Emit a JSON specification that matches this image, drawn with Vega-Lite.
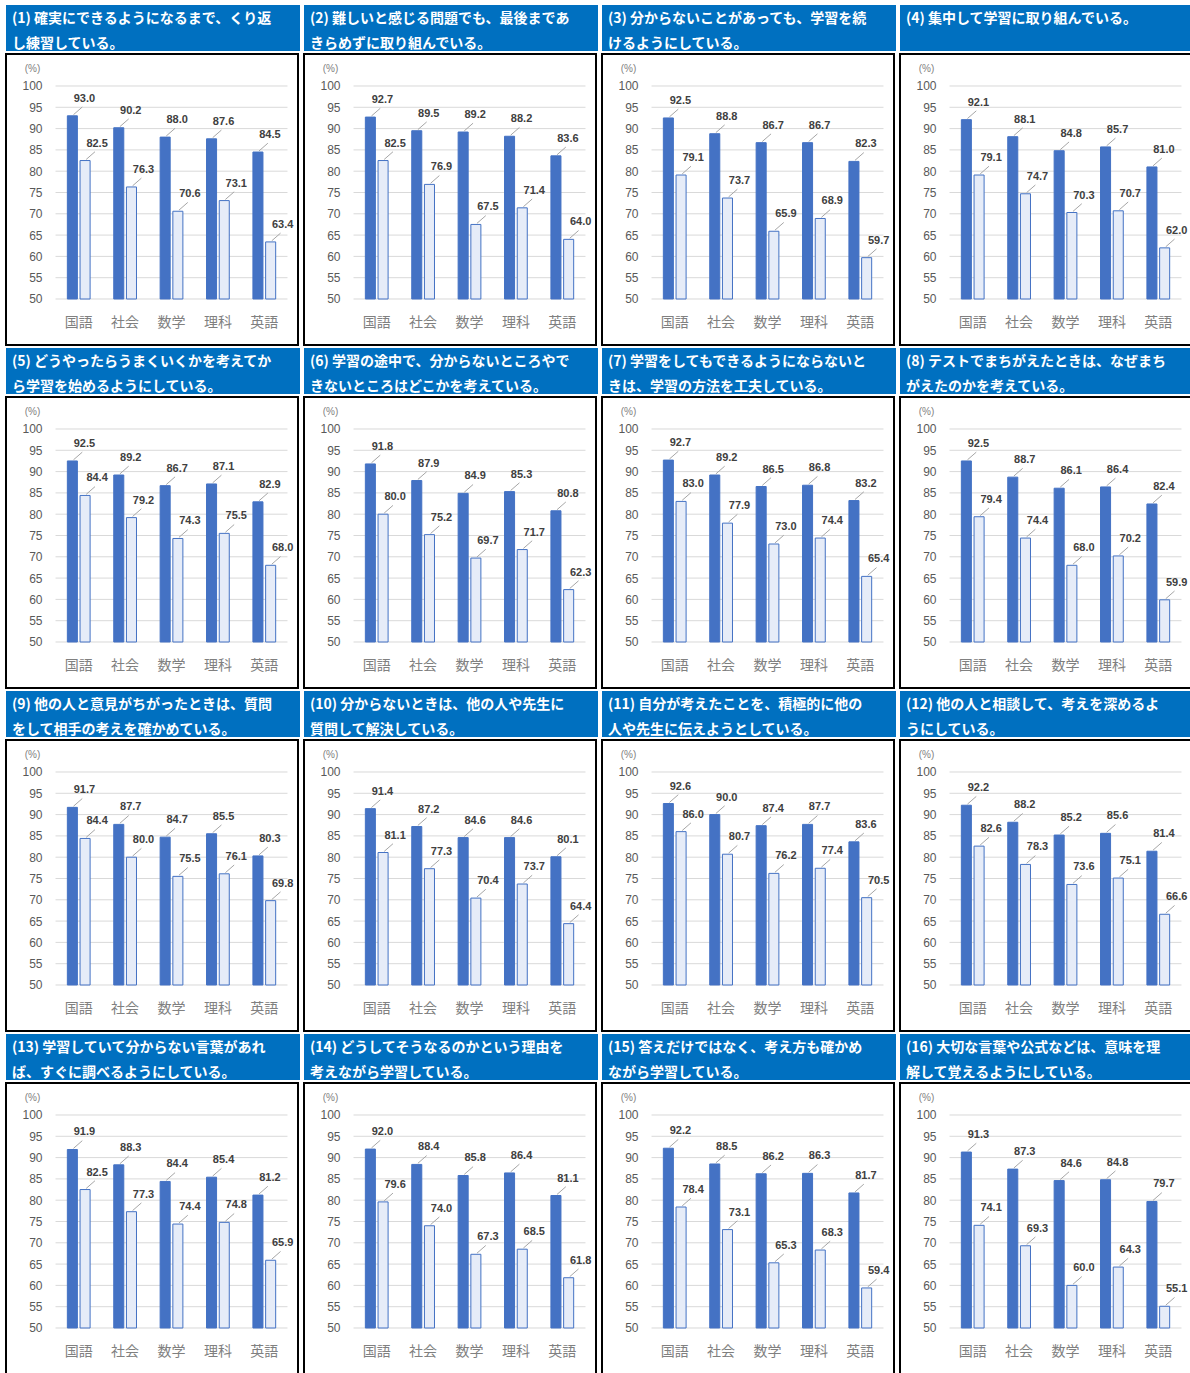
{
"$schema":"https://vega.github.io/schema/vega-lite/v6.json",
"padding":{"left":5,"top":5,"right":0,"bottom":0},
"background":"#ffffff",
"datasets":{
"grid":[{"v":50},{"v":55},{"v":60},{"v":65},{"v":70},{"v":75},{"v":80},{"v":85},{"v":90},{"v":95},{"v":100}],
"d":[
{"q":1,"s":"国語","g":"A","v":93.0},{"q":1,"s":"社会","g":"A","v":90.2},{"q":1,"s":"数学","g":"A","v":88.0},{"q":1,"s":"理科","g":"A","v":87.6},{"q":1,"s":"英語","g":"A","v":84.5},
{"q":1,"s":"国語","g":"B","v":82.5},{"q":1,"s":"社会","g":"B","v":76.3},{"q":1,"s":"数学","g":"B","v":70.6},{"q":1,"s":"理科","g":"B","v":73.1},{"q":1,"s":"英語","g":"B","v":63.4},
{"q":2,"s":"国語","g":"A","v":92.7},{"q":2,"s":"社会","g":"A","v":89.5},{"q":2,"s":"数学","g":"A","v":89.2},{"q":2,"s":"理科","g":"A","v":88.2},{"q":2,"s":"英語","g":"A","v":83.6},
{"q":2,"s":"国語","g":"B","v":82.5},{"q":2,"s":"社会","g":"B","v":76.9},{"q":2,"s":"数学","g":"B","v":67.5},{"q":2,"s":"理科","g":"B","v":71.4},{"q":2,"s":"英語","g":"B","v":64.0},
{"q":3,"s":"国語","g":"A","v":92.5},{"q":3,"s":"社会","g":"A","v":88.8},{"q":3,"s":"数学","g":"A","v":86.7},{"q":3,"s":"理科","g":"A","v":86.7},{"q":3,"s":"英語","g":"A","v":82.3},
{"q":3,"s":"国語","g":"B","v":79.1},{"q":3,"s":"社会","g":"B","v":73.7},{"q":3,"s":"数学","g":"B","v":65.9},{"q":3,"s":"理科","g":"B","v":68.9},{"q":3,"s":"英語","g":"B","v":59.7},
{"q":4,"s":"国語","g":"A","v":92.1},{"q":4,"s":"社会","g":"A","v":88.1},{"q":4,"s":"数学","g":"A","v":84.8},{"q":4,"s":"理科","g":"A","v":85.7},{"q":4,"s":"英語","g":"A","v":81.0},
{"q":4,"s":"国語","g":"B","v":79.1},{"q":4,"s":"社会","g":"B","v":74.7},{"q":4,"s":"数学","g":"B","v":70.3},{"q":4,"s":"理科","g":"B","v":70.7},{"q":4,"s":"英語","g":"B","v":62.0},
{"q":5,"s":"国語","g":"A","v":92.5},{"q":5,"s":"社会","g":"A","v":89.2},{"q":5,"s":"数学","g":"A","v":86.7},{"q":5,"s":"理科","g":"A","v":87.1},{"q":5,"s":"英語","g":"A","v":82.9},
{"q":5,"s":"国語","g":"B","v":84.4},{"q":5,"s":"社会","g":"B","v":79.2},{"q":5,"s":"数学","g":"B","v":74.3},{"q":5,"s":"理科","g":"B","v":75.5},{"q":5,"s":"英語","g":"B","v":68.0},
{"q":6,"s":"国語","g":"A","v":91.8},{"q":6,"s":"社会","g":"A","v":87.9},{"q":6,"s":"数学","g":"A","v":84.9},{"q":6,"s":"理科","g":"A","v":85.3},{"q":6,"s":"英語","g":"A","v":80.8},
{"q":6,"s":"国語","g":"B","v":80.0},{"q":6,"s":"社会","g":"B","v":75.2},{"q":6,"s":"数学","g":"B","v":69.7},{"q":6,"s":"理科","g":"B","v":71.7},{"q":6,"s":"英語","g":"B","v":62.3},
{"q":7,"s":"国語","g":"A","v":92.7},{"q":7,"s":"社会","g":"A","v":89.2},{"q":7,"s":"数学","g":"A","v":86.5},{"q":7,"s":"理科","g":"A","v":86.8},{"q":7,"s":"英語","g":"A","v":83.2},
{"q":7,"s":"国語","g":"B","v":83.0},{"q":7,"s":"社会","g":"B","v":77.9},{"q":7,"s":"数学","g":"B","v":73.0},{"q":7,"s":"理科","g":"B","v":74.4},{"q":7,"s":"英語","g":"B","v":65.4},
{"q":8,"s":"国語","g":"A","v":92.5},{"q":8,"s":"社会","g":"A","v":88.7},{"q":8,"s":"数学","g":"A","v":86.1},{"q":8,"s":"理科","g":"A","v":86.4},{"q":8,"s":"英語","g":"A","v":82.4},
{"q":8,"s":"国語","g":"B","v":79.4},{"q":8,"s":"社会","g":"B","v":74.4},{"q":8,"s":"数学","g":"B","v":68.0},{"q":8,"s":"理科","g":"B","v":70.2},{"q":8,"s":"英語","g":"B","v":59.9},
{"q":9,"s":"国語","g":"A","v":91.7},{"q":9,"s":"社会","g":"A","v":87.7},{"q":9,"s":"数学","g":"A","v":84.7},{"q":9,"s":"理科","g":"A","v":85.5},{"q":9,"s":"英語","g":"A","v":80.3},
{"q":9,"s":"国語","g":"B","v":84.4},{"q":9,"s":"社会","g":"B","v":80.0},{"q":9,"s":"数学","g":"B","v":75.5},{"q":9,"s":"理科","g":"B","v":76.1},{"q":9,"s":"英語","g":"B","v":69.8},
{"q":10,"s":"国語","g":"A","v":91.4},{"q":10,"s":"社会","g":"A","v":87.2},{"q":10,"s":"数学","g":"A","v":84.6},{"q":10,"s":"理科","g":"A","v":84.6},{"q":10,"s":"英語","g":"A","v":80.1},
{"q":10,"s":"国語","g":"B","v":81.1},{"q":10,"s":"社会","g":"B","v":77.3},{"q":10,"s":"数学","g":"B","v":70.4},{"q":10,"s":"理科","g":"B","v":73.7},{"q":10,"s":"英語","g":"B","v":64.4},
{"q":11,"s":"国語","g":"A","v":92.6},{"q":11,"s":"社会","g":"A","v":90.0},{"q":11,"s":"数学","g":"A","v":87.4},{"q":11,"s":"理科","g":"A","v":87.7},{"q":11,"s":"英語","g":"A","v":83.6},
{"q":11,"s":"国語","g":"B","v":86.0},{"q":11,"s":"社会","g":"B","v":80.7},{"q":11,"s":"数学","g":"B","v":76.2},{"q":11,"s":"理科","g":"B","v":77.4},{"q":11,"s":"英語","g":"B","v":70.5},
{"q":12,"s":"国語","g":"A","v":92.2},{"q":12,"s":"社会","g":"A","v":88.2},{"q":12,"s":"数学","g":"A","v":85.2},{"q":12,"s":"理科","g":"A","v":85.6},{"q":12,"s":"英語","g":"A","v":81.4},
{"q":12,"s":"国語","g":"B","v":82.6},{"q":12,"s":"社会","g":"B","v":78.3},{"q":12,"s":"数学","g":"B","v":73.6},{"q":12,"s":"理科","g":"B","v":75.1},{"q":12,"s":"英語","g":"B","v":66.6},
{"q":13,"s":"国語","g":"A","v":91.9},{"q":13,"s":"社会","g":"A","v":88.3},{"q":13,"s":"数学","g":"A","v":84.4},{"q":13,"s":"理科","g":"A","v":85.4},{"q":13,"s":"英語","g":"A","v":81.2},
{"q":13,"s":"国語","g":"B","v":82.5},{"q":13,"s":"社会","g":"B","v":77.3},{"q":13,"s":"数学","g":"B","v":74.4},{"q":13,"s":"理科","g":"B","v":74.8},{"q":13,"s":"英語","g":"B","v":65.9},
{"q":14,"s":"国語","g":"A","v":92.0},{"q":14,"s":"社会","g":"A","v":88.4},{"q":14,"s":"数学","g":"A","v":85.8},{"q":14,"s":"理科","g":"A","v":86.4},{"q":14,"s":"英語","g":"A","v":81.1},
{"q":14,"s":"国語","g":"B","v":79.6},{"q":14,"s":"社会","g":"B","v":74.0},{"q":14,"s":"数学","g":"B","v":67.3},{"q":14,"s":"理科","g":"B","v":68.5},{"q":14,"s":"英語","g":"B","v":61.8},
{"q":15,"s":"国語","g":"A","v":92.2},{"q":15,"s":"社会","g":"A","v":88.5},{"q":15,"s":"数学","g":"A","v":86.2},{"q":15,"s":"理科","g":"A","v":86.3},{"q":15,"s":"英語","g":"A","v":81.7},
{"q":15,"s":"国語","g":"B","v":78.4},{"q":15,"s":"社会","g":"B","v":73.1},{"q":15,"s":"数学","g":"B","v":65.3},{"q":15,"s":"理科","g":"B","v":68.3},{"q":15,"s":"英語","g":"B","v":59.4},
{"q":16,"s":"国語","g":"A","v":91.3},{"q":16,"s":"社会","g":"A","v":87.3},{"q":16,"s":"数学","g":"A","v":84.6},{"q":16,"s":"理科","g":"A","v":84.8},{"q":16,"s":"英語","g":"A","v":79.7},
{"q":16,"s":"国語","g":"B","v":74.1},{"q":16,"s":"社会","g":"B","v":69.3},{"q":16,"s":"数学","g":"B","v":60.0},{"q":16,"s":"理科","g":"B","v":64.3},{"q":16,"s":"英語","g":"B","v":55.1}
]},
"columns":4,
"spacing":{"row":2,"column":3},
"concat":[
{"spacing":2,"vconcat":[
{"width":294,"height":46,"view":{"fill":"#0070c0","stroke":null},"data":{"values":[{}]},"mark":{"type":"rect","color":"#0070c0"},"encoding":{},"title":{"text":["(1) 確実にできるようになるまで、くり返","し練習している。"]}},
{"width":292,"height":291,"view":{"stroke":"#000000","strokeWidth":2},"layer":[
{"data":{"name":"grid"},"mark":{"type":"rule","color":"#d9d9d9"},"encoding":{"y":{"field":"v","type":"quantitative","title":"(%)","scale":{"domain":[39.2,107.51],"nice":false,"zero":false},"axis":{"offset":-36,"values":[50,55,60,65,70,75,80,85,90,95,100]}},"x":{"datum":"国語","type":"nominal","bandPosition":0,"title":null,"scale":{"domain":["国語","社会","数学","理科","英語"],"paddingInner":0,"paddingOuter":0.647,"align":0.825},"axis":{"offset":-23}},"x2":{"datum":"英語","bandPosition":1}}},
{"data":{"name":"d"},"transform":[{"filter":"datum.q==1"}],"encoding":{"x":{"field":"s","type":"nominal","title":null,"scale":{"domain":["国語","社会","数学","理科","英語"],"paddingInner":0,"paddingOuter":0.647,"align":0.825},"axis":{"offset":-23}},"xOffset":{"field":"g","type":"nominal","scale":{"domain":["A","B"],"paddingInner":0.21,"paddingOuter":0.93}},"y":{"field":"v","type":"quantitative","title":"(%)","scale":{"domain":[39.2,107.51],"nice":false,"zero":false},"axis":{"offset":-36,"values":[50,55,60,65,70,75,80,85,90,95,100]}}},"layer":[
{"mark":{"type":"bar","stroke":"#4472c4","strokeWidth":1},"encoding":{"y2":{"datum":50},"color":{"field":"g","type":"nominal","scale":{"domain":["A","B"],"range":["#4472c4","#e6ecf8"]},"legend":null}}},
{"mark":{"type":"point","shape":"M0.1,-0.1L0.9,-0.8","size":484,"filled":false,"color":"#a6a6a6","strokeWidth":1,"opacity":1}},
{"mark":{"type":"text","dx":12,"dy":-17,"font":"Liberation Sans","fontSize":11,"fontWeight":"bold","color":"#404040"},"encoding":{"text":{"field":"v","type":"quantitative","format":".1f"}}}
]}]}]},
{"spacing":2,"vconcat":[
{"width":294,"height":46,"view":{"fill":"#0070c0","stroke":null},"data":{"values":[{}]},"mark":{"type":"rect","color":"#0070c0"},"encoding":{},"title":{"text":["(2) 難しいと感じる問題でも、最後まであ","きらめずに取り組んでいる。"]}},
{"width":292,"height":291,"view":{"stroke":"#000000","strokeWidth":2},"layer":[
{"data":{"name":"grid"},"mark":{"type":"rule","color":"#d9d9d9"},"encoding":{"y":{"field":"v","type":"quantitative","title":"(%)","scale":{"domain":[39.2,107.51],"nice":false,"zero":false},"axis":{"offset":-36,"values":[50,55,60,65,70,75,80,85,90,95,100]}},"x":{"datum":"国語","type":"nominal","bandPosition":0,"title":null,"scale":{"domain":["国語","社会","数学","理科","英語"],"paddingInner":0,"paddingOuter":0.647,"align":0.825},"axis":{"offset":-23}},"x2":{"datum":"英語","bandPosition":1}}},
{"data":{"name":"d"},"transform":[{"filter":"datum.q==2"}],"encoding":{"x":{"field":"s","type":"nominal","title":null,"scale":{"domain":["国語","社会","数学","理科","英語"],"paddingInner":0,"paddingOuter":0.647,"align":0.825},"axis":{"offset":-23}},"xOffset":{"field":"g","type":"nominal","scale":{"domain":["A","B"],"paddingInner":0.21,"paddingOuter":0.93}},"y":{"field":"v","type":"quantitative","title":"(%)","scale":{"domain":[39.2,107.51],"nice":false,"zero":false},"axis":{"offset":-36,"values":[50,55,60,65,70,75,80,85,90,95,100]}}},"layer":[
{"mark":{"type":"bar","stroke":"#4472c4","strokeWidth":1},"encoding":{"y2":{"datum":50},"color":{"field":"g","type":"nominal","scale":{"domain":["A","B"],"range":["#4472c4","#e6ecf8"]},"legend":null}}},
{"mark":{"type":"point","shape":"M0.1,-0.1L0.9,-0.8","size":484,"filled":false,"color":"#a6a6a6","strokeWidth":1,"opacity":1}},
{"mark":{"type":"text","dx":12,"dy":-17,"font":"Liberation Sans","fontSize":11,"fontWeight":"bold","color":"#404040"},"encoding":{"text":{"field":"v","type":"quantitative","format":".1f"}}}
]}]}]},
{"spacing":2,"vconcat":[
{"width":294,"height":46,"view":{"fill":"#0070c0","stroke":null},"data":{"values":[{}]},"mark":{"type":"rect","color":"#0070c0"},"encoding":{},"title":{"text":["(3) 分からないことがあっても、学習を続","けるようにしている。"]}},
{"width":292,"height":291,"view":{"stroke":"#000000","strokeWidth":2},"layer":[
{"data":{"name":"grid"},"mark":{"type":"rule","color":"#d9d9d9"},"encoding":{"y":{"field":"v","type":"quantitative","title":"(%)","scale":{"domain":[39.2,107.51],"nice":false,"zero":false},"axis":{"offset":-36,"values":[50,55,60,65,70,75,80,85,90,95,100]}},"x":{"datum":"国語","type":"nominal","bandPosition":0,"title":null,"scale":{"domain":["国語","社会","数学","理科","英語"],"paddingInner":0,"paddingOuter":0.647,"align":0.825},"axis":{"offset":-23}},"x2":{"datum":"英語","bandPosition":1}}},
{"data":{"name":"d"},"transform":[{"filter":"datum.q==3"}],"encoding":{"x":{"field":"s","type":"nominal","title":null,"scale":{"domain":["国語","社会","数学","理科","英語"],"paddingInner":0,"paddingOuter":0.647,"align":0.825},"axis":{"offset":-23}},"xOffset":{"field":"g","type":"nominal","scale":{"domain":["A","B"],"paddingInner":0.21,"paddingOuter":0.93}},"y":{"field":"v","type":"quantitative","title":"(%)","scale":{"domain":[39.2,107.51],"nice":false,"zero":false},"axis":{"offset":-36,"values":[50,55,60,65,70,75,80,85,90,95,100]}}},"layer":[
{"mark":{"type":"bar","stroke":"#4472c4","strokeWidth":1},"encoding":{"y2":{"datum":50},"color":{"field":"g","type":"nominal","scale":{"domain":["A","B"],"range":["#4472c4","#e6ecf8"]},"legend":null}}},
{"mark":{"type":"point","shape":"M0.1,-0.1L0.9,-0.8","size":484,"filled":false,"color":"#a6a6a6","strokeWidth":1,"opacity":1}},
{"mark":{"type":"text","dx":12,"dy":-17,"font":"Liberation Sans","fontSize":11,"fontWeight":"bold","color":"#404040"},"encoding":{"text":{"field":"v","type":"quantitative","format":".1f"}}}
]}]}]},
{"spacing":2,"vconcat":[
{"width":294,"height":46,"view":{"fill":"#0070c0","stroke":null},"data":{"values":[{}]},"mark":{"type":"rect","color":"#0070c0"},"encoding":{},"title":{"text":["(4) 集中して学習に取り組んでいる。"],"offset":-21}},
{"width":292,"height":291,"view":{"stroke":"#000000","strokeWidth":2},"layer":[
{"data":{"name":"grid"},"mark":{"type":"rule","color":"#d9d9d9"},"encoding":{"y":{"field":"v","type":"quantitative","title":"(%)","scale":{"domain":[39.2,107.51],"nice":false,"zero":false},"axis":{"offset":-36,"values":[50,55,60,65,70,75,80,85,90,95,100]}},"x":{"datum":"国語","type":"nominal","bandPosition":0,"title":null,"scale":{"domain":["国語","社会","数学","理科","英語"],"paddingInner":0,"paddingOuter":0.647,"align":0.825},"axis":{"offset":-23}},"x2":{"datum":"英語","bandPosition":1}}},
{"data":{"name":"d"},"transform":[{"filter":"datum.q==4"}],"encoding":{"x":{"field":"s","type":"nominal","title":null,"scale":{"domain":["国語","社会","数学","理科","英語"],"paddingInner":0,"paddingOuter":0.647,"align":0.825},"axis":{"offset":-23}},"xOffset":{"field":"g","type":"nominal","scale":{"domain":["A","B"],"paddingInner":0.21,"paddingOuter":0.93}},"y":{"field":"v","type":"quantitative","title":"(%)","scale":{"domain":[39.2,107.51],"nice":false,"zero":false},"axis":{"offset":-36,"values":[50,55,60,65,70,75,80,85,90,95,100]}}},"layer":[
{"mark":{"type":"bar","stroke":"#4472c4","strokeWidth":1},"encoding":{"y2":{"datum":50},"color":{"field":"g","type":"nominal","scale":{"domain":["A","B"],"range":["#4472c4","#e6ecf8"]},"legend":null}}},
{"mark":{"type":"point","shape":"M0.1,-0.1L0.9,-0.8","size":484,"filled":false,"color":"#a6a6a6","strokeWidth":1,"opacity":1}},
{"mark":{"type":"text","dx":12,"dy":-17,"font":"Liberation Sans","fontSize":11,"fontWeight":"bold","color":"#404040"},"encoding":{"text":{"field":"v","type":"quantitative","format":".1f"}}}
]}]}]},
{"spacing":2,"vconcat":[
{"width":294,"height":46,"view":{"fill":"#0070c0","stroke":null},"data":{"values":[{}]},"mark":{"type":"rect","color":"#0070c0"},"encoding":{},"title":{"text":["(5) どうやったらうまくいくかを考えてか","ら学習を始めるようにしている。"]}},
{"width":292,"height":291,"view":{"stroke":"#000000","strokeWidth":2},"layer":[
{"data":{"name":"grid"},"mark":{"type":"rule","color":"#d9d9d9"},"encoding":{"y":{"field":"v","type":"quantitative","title":"(%)","scale":{"domain":[39.2,107.51],"nice":false,"zero":false},"axis":{"offset":-36,"values":[50,55,60,65,70,75,80,85,90,95,100]}},"x":{"datum":"国語","type":"nominal","bandPosition":0,"title":null,"scale":{"domain":["国語","社会","数学","理科","英語"],"paddingInner":0,"paddingOuter":0.647,"align":0.825},"axis":{"offset":-23}},"x2":{"datum":"英語","bandPosition":1}}},
{"data":{"name":"d"},"transform":[{"filter":"datum.q==5"}],"encoding":{"x":{"field":"s","type":"nominal","title":null,"scale":{"domain":["国語","社会","数学","理科","英語"],"paddingInner":0,"paddingOuter":0.647,"align":0.825},"axis":{"offset":-23}},"xOffset":{"field":"g","type":"nominal","scale":{"domain":["A","B"],"paddingInner":0.21,"paddingOuter":0.93}},"y":{"field":"v","type":"quantitative","title":"(%)","scale":{"domain":[39.2,107.51],"nice":false,"zero":false},"axis":{"offset":-36,"values":[50,55,60,65,70,75,80,85,90,95,100]}}},"layer":[
{"mark":{"type":"bar","stroke":"#4472c4","strokeWidth":1},"encoding":{"y2":{"datum":50},"color":{"field":"g","type":"nominal","scale":{"domain":["A","B"],"range":["#4472c4","#e6ecf8"]},"legend":null}}},
{"mark":{"type":"point","shape":"M0.1,-0.1L0.9,-0.8","size":484,"filled":false,"color":"#a6a6a6","strokeWidth":1,"opacity":1}},
{"mark":{"type":"text","dx":12,"dy":-17,"font":"Liberation Sans","fontSize":11,"fontWeight":"bold","color":"#404040"},"encoding":{"text":{"field":"v","type":"quantitative","format":".1f"}}}
]}]}]},
{"spacing":2,"vconcat":[
{"width":294,"height":46,"view":{"fill":"#0070c0","stroke":null},"data":{"values":[{}]},"mark":{"type":"rect","color":"#0070c0"},"encoding":{},"title":{"text":["(6) 学習の途中で、分からないところやで","きないところはどこかを考えている。"]}},
{"width":292,"height":291,"view":{"stroke":"#000000","strokeWidth":2},"layer":[
{"data":{"name":"grid"},"mark":{"type":"rule","color":"#d9d9d9"},"encoding":{"y":{"field":"v","type":"quantitative","title":"(%)","scale":{"domain":[39.2,107.51],"nice":false,"zero":false},"axis":{"offset":-36,"values":[50,55,60,65,70,75,80,85,90,95,100]}},"x":{"datum":"国語","type":"nominal","bandPosition":0,"title":null,"scale":{"domain":["国語","社会","数学","理科","英語"],"paddingInner":0,"paddingOuter":0.647,"align":0.825},"axis":{"offset":-23}},"x2":{"datum":"英語","bandPosition":1}}},
{"data":{"name":"d"},"transform":[{"filter":"datum.q==6"}],"encoding":{"x":{"field":"s","type":"nominal","title":null,"scale":{"domain":["国語","社会","数学","理科","英語"],"paddingInner":0,"paddingOuter":0.647,"align":0.825},"axis":{"offset":-23}},"xOffset":{"field":"g","type":"nominal","scale":{"domain":["A","B"],"paddingInner":0.21,"paddingOuter":0.93}},"y":{"field":"v","type":"quantitative","title":"(%)","scale":{"domain":[39.2,107.51],"nice":false,"zero":false},"axis":{"offset":-36,"values":[50,55,60,65,70,75,80,85,90,95,100]}}},"layer":[
{"mark":{"type":"bar","stroke":"#4472c4","strokeWidth":1},"encoding":{"y2":{"datum":50},"color":{"field":"g","type":"nominal","scale":{"domain":["A","B"],"range":["#4472c4","#e6ecf8"]},"legend":null}}},
{"mark":{"type":"point","shape":"M0.1,-0.1L0.9,-0.8","size":484,"filled":false,"color":"#a6a6a6","strokeWidth":1,"opacity":1}},
{"mark":{"type":"text","dx":12,"dy":-17,"font":"Liberation Sans","fontSize":11,"fontWeight":"bold","color":"#404040"},"encoding":{"text":{"field":"v","type":"quantitative","format":".1f"}}}
]}]}]},
{"spacing":2,"vconcat":[
{"width":294,"height":46,"view":{"fill":"#0070c0","stroke":null},"data":{"values":[{}]},"mark":{"type":"rect","color":"#0070c0"},"encoding":{},"title":{"text":["(7) 学習をしてもできるようにならないと","きは、学習の方法を工夫している。"]}},
{"width":292,"height":291,"view":{"stroke":"#000000","strokeWidth":2},"layer":[
{"data":{"name":"grid"},"mark":{"type":"rule","color":"#d9d9d9"},"encoding":{"y":{"field":"v","type":"quantitative","title":"(%)","scale":{"domain":[39.2,107.51],"nice":false,"zero":false},"axis":{"offset":-36,"values":[50,55,60,65,70,75,80,85,90,95,100]}},"x":{"datum":"国語","type":"nominal","bandPosition":0,"title":null,"scale":{"domain":["国語","社会","数学","理科","英語"],"paddingInner":0,"paddingOuter":0.647,"align":0.825},"axis":{"offset":-23}},"x2":{"datum":"英語","bandPosition":1}}},
{"data":{"name":"d"},"transform":[{"filter":"datum.q==7"}],"encoding":{"x":{"field":"s","type":"nominal","title":null,"scale":{"domain":["国語","社会","数学","理科","英語"],"paddingInner":0,"paddingOuter":0.647,"align":0.825},"axis":{"offset":-23}},"xOffset":{"field":"g","type":"nominal","scale":{"domain":["A","B"],"paddingInner":0.21,"paddingOuter":0.93}},"y":{"field":"v","type":"quantitative","title":"(%)","scale":{"domain":[39.2,107.51],"nice":false,"zero":false},"axis":{"offset":-36,"values":[50,55,60,65,70,75,80,85,90,95,100]}}},"layer":[
{"mark":{"type":"bar","stroke":"#4472c4","strokeWidth":1},"encoding":{"y2":{"datum":50},"color":{"field":"g","type":"nominal","scale":{"domain":["A","B"],"range":["#4472c4","#e6ecf8"]},"legend":null}}},
{"mark":{"type":"point","shape":"M0.1,-0.1L0.9,-0.8","size":484,"filled":false,"color":"#a6a6a6","strokeWidth":1,"opacity":1}},
{"mark":{"type":"text","dx":12,"dy":-17,"font":"Liberation Sans","fontSize":11,"fontWeight":"bold","color":"#404040"},"encoding":{"text":{"field":"v","type":"quantitative","format":".1f"}}}
]}]}]},
{"spacing":2,"vconcat":[
{"width":294,"height":46,"view":{"fill":"#0070c0","stroke":null},"data":{"values":[{}]},"mark":{"type":"rect","color":"#0070c0"},"encoding":{},"title":{"text":["(8) テストでまちがえたときは、なぜまち","がえたのかを考えている。"]}},
{"width":292,"height":291,"view":{"stroke":"#000000","strokeWidth":2},"layer":[
{"data":{"name":"grid"},"mark":{"type":"rule","color":"#d9d9d9"},"encoding":{"y":{"field":"v","type":"quantitative","title":"(%)","scale":{"domain":[39.2,107.51],"nice":false,"zero":false},"axis":{"offset":-36,"values":[50,55,60,65,70,75,80,85,90,95,100]}},"x":{"datum":"国語","type":"nominal","bandPosition":0,"title":null,"scale":{"domain":["国語","社会","数学","理科","英語"],"paddingInner":0,"paddingOuter":0.647,"align":0.825},"axis":{"offset":-23}},"x2":{"datum":"英語","bandPosition":1}}},
{"data":{"name":"d"},"transform":[{"filter":"datum.q==8"}],"encoding":{"x":{"field":"s","type":"nominal","title":null,"scale":{"domain":["国語","社会","数学","理科","英語"],"paddingInner":0,"paddingOuter":0.647,"align":0.825},"axis":{"offset":-23}},"xOffset":{"field":"g","type":"nominal","scale":{"domain":["A","B"],"paddingInner":0.21,"paddingOuter":0.93}},"y":{"field":"v","type":"quantitative","title":"(%)","scale":{"domain":[39.2,107.51],"nice":false,"zero":false},"axis":{"offset":-36,"values":[50,55,60,65,70,75,80,85,90,95,100]}}},"layer":[
{"mark":{"type":"bar","stroke":"#4472c4","strokeWidth":1},"encoding":{"y2":{"datum":50},"color":{"field":"g","type":"nominal","scale":{"domain":["A","B"],"range":["#4472c4","#e6ecf8"]},"legend":null}}},
{"mark":{"type":"point","shape":"M0.1,-0.1L0.9,-0.8","size":484,"filled":false,"color":"#a6a6a6","strokeWidth":1,"opacity":1}},
{"mark":{"type":"text","dx":12,"dy":-17,"font":"Liberation Sans","fontSize":11,"fontWeight":"bold","color":"#404040"},"encoding":{"text":{"field":"v","type":"quantitative","format":".1f"}}}
]}]}]},
{"spacing":2,"vconcat":[
{"width":294,"height":46,"view":{"fill":"#0070c0","stroke":null},"data":{"values":[{}]},"mark":{"type":"rect","color":"#0070c0"},"encoding":{},"title":{"text":["(9) 他の人と意見がちがったときは、質問","をして相手の考えを確かめている。"]}},
{"width":292,"height":291,"view":{"stroke":"#000000","strokeWidth":2},"layer":[
{"data":{"name":"grid"},"mark":{"type":"rule","color":"#d9d9d9"},"encoding":{"y":{"field":"v","type":"quantitative","title":"(%)","scale":{"domain":[39.2,107.51],"nice":false,"zero":false},"axis":{"offset":-36,"values":[50,55,60,65,70,75,80,85,90,95,100]}},"x":{"datum":"国語","type":"nominal","bandPosition":0,"title":null,"scale":{"domain":["国語","社会","数学","理科","英語"],"paddingInner":0,"paddingOuter":0.647,"align":0.825},"axis":{"offset":-23}},"x2":{"datum":"英語","bandPosition":1}}},
{"data":{"name":"d"},"transform":[{"filter":"datum.q==9"}],"encoding":{"x":{"field":"s","type":"nominal","title":null,"scale":{"domain":["国語","社会","数学","理科","英語"],"paddingInner":0,"paddingOuter":0.647,"align":0.825},"axis":{"offset":-23}},"xOffset":{"field":"g","type":"nominal","scale":{"domain":["A","B"],"paddingInner":0.21,"paddingOuter":0.93}},"y":{"field":"v","type":"quantitative","title":"(%)","scale":{"domain":[39.2,107.51],"nice":false,"zero":false},"axis":{"offset":-36,"values":[50,55,60,65,70,75,80,85,90,95,100]}}},"layer":[
{"mark":{"type":"bar","stroke":"#4472c4","strokeWidth":1},"encoding":{"y2":{"datum":50},"color":{"field":"g","type":"nominal","scale":{"domain":["A","B"],"range":["#4472c4","#e6ecf8"]},"legend":null}}},
{"mark":{"type":"point","shape":"M0.1,-0.1L0.9,-0.8","size":484,"filled":false,"color":"#a6a6a6","strokeWidth":1,"opacity":1}},
{"mark":{"type":"text","dx":12,"dy":-17,"font":"Liberation Sans","fontSize":11,"fontWeight":"bold","color":"#404040"},"encoding":{"text":{"field":"v","type":"quantitative","format":".1f"}}}
]}]}]},
{"spacing":2,"vconcat":[
{"width":294,"height":46,"view":{"fill":"#0070c0","stroke":null},"data":{"values":[{}]},"mark":{"type":"rect","color":"#0070c0"},"encoding":{},"title":{"text":["(10) 分からないときは、他の人や先生に","質問して解決している。"]}},
{"width":292,"height":291,"view":{"stroke":"#000000","strokeWidth":2},"layer":[
{"data":{"name":"grid"},"mark":{"type":"rule","color":"#d9d9d9"},"encoding":{"y":{"field":"v","type":"quantitative","title":"(%)","scale":{"domain":[39.2,107.51],"nice":false,"zero":false},"axis":{"offset":-36,"values":[50,55,60,65,70,75,80,85,90,95,100]}},"x":{"datum":"国語","type":"nominal","bandPosition":0,"title":null,"scale":{"domain":["国語","社会","数学","理科","英語"],"paddingInner":0,"paddingOuter":0.647,"align":0.825},"axis":{"offset":-23}},"x2":{"datum":"英語","bandPosition":1}}},
{"data":{"name":"d"},"transform":[{"filter":"datum.q==10"}],"encoding":{"x":{"field":"s","type":"nominal","title":null,"scale":{"domain":["国語","社会","数学","理科","英語"],"paddingInner":0,"paddingOuter":0.647,"align":0.825},"axis":{"offset":-23}},"xOffset":{"field":"g","type":"nominal","scale":{"domain":["A","B"],"paddingInner":0.21,"paddingOuter":0.93}},"y":{"field":"v","type":"quantitative","title":"(%)","scale":{"domain":[39.2,107.51],"nice":false,"zero":false},"axis":{"offset":-36,"values":[50,55,60,65,70,75,80,85,90,95,100]}}},"layer":[
{"mark":{"type":"bar","stroke":"#4472c4","strokeWidth":1},"encoding":{"y2":{"datum":50},"color":{"field":"g","type":"nominal","scale":{"domain":["A","B"],"range":["#4472c4","#e6ecf8"]},"legend":null}}},
{"mark":{"type":"point","shape":"M0.1,-0.1L0.9,-0.8","size":484,"filled":false,"color":"#a6a6a6","strokeWidth":1,"opacity":1}},
{"mark":{"type":"text","dx":12,"dy":-17,"font":"Liberation Sans","fontSize":11,"fontWeight":"bold","color":"#404040"},"encoding":{"text":{"field":"v","type":"quantitative","format":".1f"}}}
]}]}]},
{"spacing":2,"vconcat":[
{"width":294,"height":46,"view":{"fill":"#0070c0","stroke":null},"data":{"values":[{}]},"mark":{"type":"rect","color":"#0070c0"},"encoding":{},"title":{"text":["(11) 自分が考えたことを、積極的に他の","人や先生に伝えようとしている。"]}},
{"width":292,"height":291,"view":{"stroke":"#000000","strokeWidth":2},"layer":[
{"data":{"name":"grid"},"mark":{"type":"rule","color":"#d9d9d9"},"encoding":{"y":{"field":"v","type":"quantitative","title":"(%)","scale":{"domain":[39.2,107.51],"nice":false,"zero":false},"axis":{"offset":-36,"values":[50,55,60,65,70,75,80,85,90,95,100]}},"x":{"datum":"国語","type":"nominal","bandPosition":0,"title":null,"scale":{"domain":["国語","社会","数学","理科","英語"],"paddingInner":0,"paddingOuter":0.647,"align":0.825},"axis":{"offset":-23}},"x2":{"datum":"英語","bandPosition":1}}},
{"data":{"name":"d"},"transform":[{"filter":"datum.q==11"}],"encoding":{"x":{"field":"s","type":"nominal","title":null,"scale":{"domain":["国語","社会","数学","理科","英語"],"paddingInner":0,"paddingOuter":0.647,"align":0.825},"axis":{"offset":-23}},"xOffset":{"field":"g","type":"nominal","scale":{"domain":["A","B"],"paddingInner":0.21,"paddingOuter":0.93}},"y":{"field":"v","type":"quantitative","title":"(%)","scale":{"domain":[39.2,107.51],"nice":false,"zero":false},"axis":{"offset":-36,"values":[50,55,60,65,70,75,80,85,90,95,100]}}},"layer":[
{"mark":{"type":"bar","stroke":"#4472c4","strokeWidth":1},"encoding":{"y2":{"datum":50},"color":{"field":"g","type":"nominal","scale":{"domain":["A","B"],"range":["#4472c4","#e6ecf8"]},"legend":null}}},
{"mark":{"type":"point","shape":"M0.1,-0.1L0.9,-0.8","size":484,"filled":false,"color":"#a6a6a6","strokeWidth":1,"opacity":1}},
{"mark":{"type":"text","dx":12,"dy":-17,"font":"Liberation Sans","fontSize":11,"fontWeight":"bold","color":"#404040"},"encoding":{"text":{"field":"v","type":"quantitative","format":".1f"}}}
]}]}]},
{"spacing":2,"vconcat":[
{"width":294,"height":46,"view":{"fill":"#0070c0","stroke":null},"data":{"values":[{}]},"mark":{"type":"rect","color":"#0070c0"},"encoding":{},"title":{"text":["(12) 他の人と相談して、考えを深めるよ","うにしている。"]}},
{"width":292,"height":291,"view":{"stroke":"#000000","strokeWidth":2},"layer":[
{"data":{"name":"grid"},"mark":{"type":"rule","color":"#d9d9d9"},"encoding":{"y":{"field":"v","type":"quantitative","title":"(%)","scale":{"domain":[39.2,107.51],"nice":false,"zero":false},"axis":{"offset":-36,"values":[50,55,60,65,70,75,80,85,90,95,100]}},"x":{"datum":"国語","type":"nominal","bandPosition":0,"title":null,"scale":{"domain":["国語","社会","数学","理科","英語"],"paddingInner":0,"paddingOuter":0.647,"align":0.825},"axis":{"offset":-23}},"x2":{"datum":"英語","bandPosition":1}}},
{"data":{"name":"d"},"transform":[{"filter":"datum.q==12"}],"encoding":{"x":{"field":"s","type":"nominal","title":null,"scale":{"domain":["国語","社会","数学","理科","英語"],"paddingInner":0,"paddingOuter":0.647,"align":0.825},"axis":{"offset":-23}},"xOffset":{"field":"g","type":"nominal","scale":{"domain":["A","B"],"paddingInner":0.21,"paddingOuter":0.93}},"y":{"field":"v","type":"quantitative","title":"(%)","scale":{"domain":[39.2,107.51],"nice":false,"zero":false},"axis":{"offset":-36,"values":[50,55,60,65,70,75,80,85,90,95,100]}}},"layer":[
{"mark":{"type":"bar","stroke":"#4472c4","strokeWidth":1},"encoding":{"y2":{"datum":50},"color":{"field":"g","type":"nominal","scale":{"domain":["A","B"],"range":["#4472c4","#e6ecf8"]},"legend":null}}},
{"mark":{"type":"point","shape":"M0.1,-0.1L0.9,-0.8","size":484,"filled":false,"color":"#a6a6a6","strokeWidth":1,"opacity":1}},
{"mark":{"type":"text","dx":12,"dy":-17,"font":"Liberation Sans","fontSize":11,"fontWeight":"bold","color":"#404040"},"encoding":{"text":{"field":"v","type":"quantitative","format":".1f"}}}
]}]}]},
{"spacing":2,"vconcat":[
{"width":294,"height":46,"view":{"fill":"#0070c0","stroke":null},"data":{"values":[{}]},"mark":{"type":"rect","color":"#0070c0"},"encoding":{},"title":{"text":["(13) 学習していて分からない言葉があれ","ば、すぐに調べるようにしている。"]}},
{"width":292,"height":291,"view":{"stroke":"#000000","strokeWidth":2},"layer":[
{"data":{"name":"grid"},"mark":{"type":"rule","color":"#d9d9d9"},"encoding":{"y":{"field":"v","type":"quantitative","title":"(%)","scale":{"domain":[39.2,107.51],"nice":false,"zero":false},"axis":{"offset":-36,"values":[50,55,60,65,70,75,80,85,90,95,100]}},"x":{"datum":"国語","type":"nominal","bandPosition":0,"title":null,"scale":{"domain":["国語","社会","数学","理科","英語"],"paddingInner":0,"paddingOuter":0.647,"align":0.825},"axis":{"offset":-23}},"x2":{"datum":"英語","bandPosition":1}}},
{"data":{"name":"d"},"transform":[{"filter":"datum.q==13"}],"encoding":{"x":{"field":"s","type":"nominal","title":null,"scale":{"domain":["国語","社会","数学","理科","英語"],"paddingInner":0,"paddingOuter":0.647,"align":0.825},"axis":{"offset":-23}},"xOffset":{"field":"g","type":"nominal","scale":{"domain":["A","B"],"paddingInner":0.21,"paddingOuter":0.93}},"y":{"field":"v","type":"quantitative","title":"(%)","scale":{"domain":[39.2,107.51],"nice":false,"zero":false},"axis":{"offset":-36,"values":[50,55,60,65,70,75,80,85,90,95,100]}}},"layer":[
{"mark":{"type":"bar","stroke":"#4472c4","strokeWidth":1},"encoding":{"y2":{"datum":50},"color":{"field":"g","type":"nominal","scale":{"domain":["A","B"],"range":["#4472c4","#e6ecf8"]},"legend":null}}},
{"mark":{"type":"point","shape":"M0.1,-0.1L0.9,-0.8","size":484,"filled":false,"color":"#a6a6a6","strokeWidth":1,"opacity":1}},
{"mark":{"type":"text","dx":12,"dy":-17,"font":"Liberation Sans","fontSize":11,"fontWeight":"bold","color":"#404040"},"encoding":{"text":{"field":"v","type":"quantitative","format":".1f"}}}
]}]}]},
{"spacing":2,"vconcat":[
{"width":294,"height":46,"view":{"fill":"#0070c0","stroke":null},"data":{"values":[{}]},"mark":{"type":"rect","color":"#0070c0"},"encoding":{},"title":{"text":["(14) どうしてそうなるのかという理由を","考えながら学習している。"]}},
{"width":292,"height":291,"view":{"stroke":"#000000","strokeWidth":2},"layer":[
{"data":{"name":"grid"},"mark":{"type":"rule","color":"#d9d9d9"},"encoding":{"y":{"field":"v","type":"quantitative","title":"(%)","scale":{"domain":[39.2,107.51],"nice":false,"zero":false},"axis":{"offset":-36,"values":[50,55,60,65,70,75,80,85,90,95,100]}},"x":{"datum":"国語","type":"nominal","bandPosition":0,"title":null,"scale":{"domain":["国語","社会","数学","理科","英語"],"paddingInner":0,"paddingOuter":0.647,"align":0.825},"axis":{"offset":-23}},"x2":{"datum":"英語","bandPosition":1}}},
{"data":{"name":"d"},"transform":[{"filter":"datum.q==14"}],"encoding":{"x":{"field":"s","type":"nominal","title":null,"scale":{"domain":["国語","社会","数学","理科","英語"],"paddingInner":0,"paddingOuter":0.647,"align":0.825},"axis":{"offset":-23}},"xOffset":{"field":"g","type":"nominal","scale":{"domain":["A","B"],"paddingInner":0.21,"paddingOuter":0.93}},"y":{"field":"v","type":"quantitative","title":"(%)","scale":{"domain":[39.2,107.51],"nice":false,"zero":false},"axis":{"offset":-36,"values":[50,55,60,65,70,75,80,85,90,95,100]}}},"layer":[
{"mark":{"type":"bar","stroke":"#4472c4","strokeWidth":1},"encoding":{"y2":{"datum":50},"color":{"field":"g","type":"nominal","scale":{"domain":["A","B"],"range":["#4472c4","#e6ecf8"]},"legend":null}}},
{"mark":{"type":"point","shape":"M0.1,-0.1L0.9,-0.8","size":484,"filled":false,"color":"#a6a6a6","strokeWidth":1,"opacity":1}},
{"mark":{"type":"text","dx":12,"dy":-17,"font":"Liberation Sans","fontSize":11,"fontWeight":"bold","color":"#404040"},"encoding":{"text":{"field":"v","type":"quantitative","format":".1f"}}}
]}]}]},
{"spacing":2,"vconcat":[
{"width":294,"height":46,"view":{"fill":"#0070c0","stroke":null},"data":{"values":[{}]},"mark":{"type":"rect","color":"#0070c0"},"encoding":{},"title":{"text":["(15) 答えだけではなく、考え方も確かめ","ながら学習している。"]}},
{"width":292,"height":291,"view":{"stroke":"#000000","strokeWidth":2},"layer":[
{"data":{"name":"grid"},"mark":{"type":"rule","color":"#d9d9d9"},"encoding":{"y":{"field":"v","type":"quantitative","title":"(%)","scale":{"domain":[39.2,107.51],"nice":false,"zero":false},"axis":{"offset":-36,"values":[50,55,60,65,70,75,80,85,90,95,100]}},"x":{"datum":"国語","type":"nominal","bandPosition":0,"title":null,"scale":{"domain":["国語","社会","数学","理科","英語"],"paddingInner":0,"paddingOuter":0.647,"align":0.825},"axis":{"offset":-23}},"x2":{"datum":"英語","bandPosition":1}}},
{"data":{"name":"d"},"transform":[{"filter":"datum.q==15"}],"encoding":{"x":{"field":"s","type":"nominal","title":null,"scale":{"domain":["国語","社会","数学","理科","英語"],"paddingInner":0,"paddingOuter":0.647,"align":0.825},"axis":{"offset":-23}},"xOffset":{"field":"g","type":"nominal","scale":{"domain":["A","B"],"paddingInner":0.21,"paddingOuter":0.93}},"y":{"field":"v","type":"quantitative","title":"(%)","scale":{"domain":[39.2,107.51],"nice":false,"zero":false},"axis":{"offset":-36,"values":[50,55,60,65,70,75,80,85,90,95,100]}}},"layer":[
{"mark":{"type":"bar","stroke":"#4472c4","strokeWidth":1},"encoding":{"y2":{"datum":50},"color":{"field":"g","type":"nominal","scale":{"domain":["A","B"],"range":["#4472c4","#e6ecf8"]},"legend":null}}},
{"mark":{"type":"point","shape":"M0.1,-0.1L0.9,-0.8","size":484,"filled":false,"color":"#a6a6a6","strokeWidth":1,"opacity":1}},
{"mark":{"type":"text","dx":12,"dy":-17,"font":"Liberation Sans","fontSize":11,"fontWeight":"bold","color":"#404040"},"encoding":{"text":{"field":"v","type":"quantitative","format":".1f"}}}
]}]}]},
{"spacing":2,"vconcat":[
{"width":294,"height":46,"view":{"fill":"#0070c0","stroke":null},"data":{"values":[{}]},"mark":{"type":"rect","color":"#0070c0"},"encoding":{},"title":{"text":["(16) 大切な言葉や公式などは、意味を理","解して覚えるようにしている。"]}},
{"width":292,"height":291,"view":{"stroke":"#000000","strokeWidth":2},"layer":[
{"data":{"name":"grid"},"mark":{"type":"rule","color":"#d9d9d9"},"encoding":{"y":{"field":"v","type":"quantitative","title":"(%)","scale":{"domain":[39.2,107.51],"nice":false,"zero":false},"axis":{"offset":-36,"values":[50,55,60,65,70,75,80,85,90,95,100]}},"x":{"datum":"国語","type":"nominal","bandPosition":0,"title":null,"scale":{"domain":["国語","社会","数学","理科","英語"],"paddingInner":0,"paddingOuter":0.647,"align":0.825},"axis":{"offset":-23}},"x2":{"datum":"英語","bandPosition":1}}},
{"data":{"name":"d"},"transform":[{"filter":"datum.q==16"}],"encoding":{"x":{"field":"s","type":"nominal","title":null,"scale":{"domain":["国語","社会","数学","理科","英語"],"paddingInner":0,"paddingOuter":0.647,"align":0.825},"axis":{"offset":-23}},"xOffset":{"field":"g","type":"nominal","scale":{"domain":["A","B"],"paddingInner":0.21,"paddingOuter":0.93}},"y":{"field":"v","type":"quantitative","title":"(%)","scale":{"domain":[39.2,107.51],"nice":false,"zero":false},"axis":{"offset":-36,"values":[50,55,60,65,70,75,80,85,90,95,100]}}},"layer":[
{"mark":{"type":"bar","stroke":"#4472c4","strokeWidth":1},"encoding":{"y2":{"datum":50},"color":{"field":"g","type":"nominal","scale":{"domain":["A","B"],"range":["#4472c4","#e6ecf8"]},"legend":null}}},
{"mark":{"type":"point","shape":"M0.1,-0.1L0.9,-0.8","size":484,"filled":false,"color":"#a6a6a6","strokeWidth":1,"opacity":1}},
{"mark":{"type":"text","dx":12,"dy":-17,"font":"Liberation Sans","fontSize":11,"fontWeight":"bold","color":"#404040"},"encoding":{"text":{"field":"v","type":"quantitative","format":".1f"}}}
]}]}]}
],
"config":{
"view":{"stroke":null},
"title":{"anchor":"start","frame":"group","orient":"top","offset":-46,"dx":6,"color":"#ffffff","font":"Noto Sans CJK JP","fontSize":14,"fontWeight":"bold","lineHeight":25,"baseline":"top"},
"axis":{"domain":false,"ticks":false,"tickSize":0,"grid":false,"labelPadding":0,"titleFontWeight":"normal"},
"axisX":{"labelFont":"Noto Sans CJK JP","labelFontSize":14,"labelColor":"#808080","labelAngle":0,"labelBaseline":"middle"},
"axisY":{"labelFont":"Liberation Sans","labelFontSize":12,"labelColor":"#595959","titleAngle":0,"titleAlign":"center","titleBaseline":"middle","titleX":-10,"titleY":14,"titleFont":"Liberation Sans","titleFontSize":10,"titleColor":"#7f7f7f"}
}
}
